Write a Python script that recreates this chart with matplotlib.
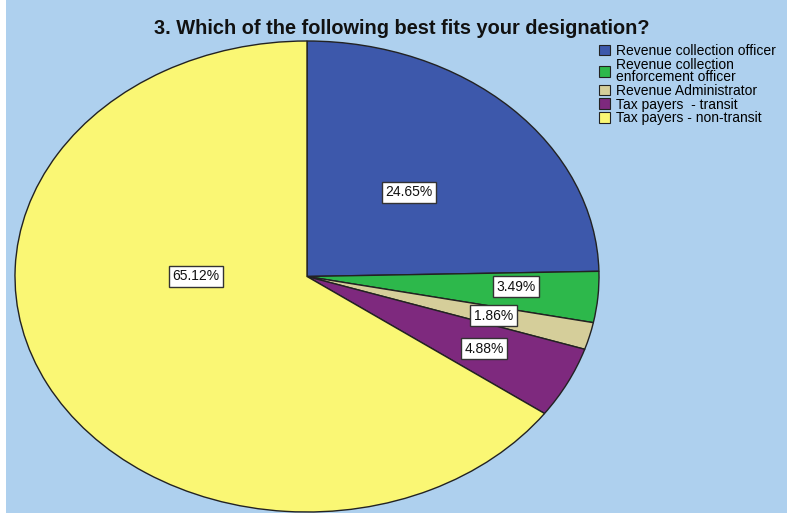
import numpy as np
import matplotlib.pyplot as plt
from matplotlib.patches import Rectangle, Patch

plt.rcParams['font.family'] = ['Liberation Sans', 'DejaVu Sans']

title = '3. Which of the following best fits your designation?'
categories = ['Revenue collection officer',
              'Revenue collection\nenforcement officer',
              'Revenue Administrator',
              'Tax payers  - transit',
              'Tax payers - non-transit']
percents = [24.65, 3.49, 1.86, 4.88, 65.12]
colors = ['#3D58AB', '#2DB84B', '#D5CE9A', '#7E297E', '#FAF774']
bg = '#AED0EE'

# where SPSS dropped the labels (radius fraction, angle in degrees)
label_r = [0.50, 0.717, 0.66, 0.68, 0.38]
label_ang = [None, -3.4, None, None, 180]

fig = plt.figure(figsize=(7.87, 5.13), dpi=100, facecolor='white')
fig.patches.append(Rectangle((6 / 787, 0), 1, 1, transform=fig.transFigure,
                             facecolor=bg, edgecolor='none', zorder=-10))

W, H = 787, 513
# ellipse bounding box in pixels
x0, x1, ytop, ybot = 15, 599, 41, 512
ax = fig.add_axes([x0 / W, (H - ybot) / H, (x1 - x0) / W, (ybot - ytop) / H])
wedges, _ = ax.pie(percents, colors=colors, startangle=90, counterclock=False,
                   radius=1, wedgeprops=dict(edgecolor='#222222', linewidth=1.0))
for w in wedges:
    w.set_clip_on(False)
ax.set_aspect('auto')
ax.set_xlim(-1, 1)
ax.set_ylim(-1, 1)
ax.axis('off')

for i, w in enumerate(wedges):
    ang = label_ang[i]
    if ang is None:
        ang = (w.theta1 + w.theta2) / 2
    r = label_r[i]
    x = r * np.cos(np.radians(ang))
    y = r * np.sin(np.radians(ang))
    ax.text(x, y, f'{percents[i]:.2f}%', ha='center', va='center', fontsize=10,
            color='#111111',
            bbox=dict(boxstyle='square,pad=0.25', facecolor='white',
                      edgecolor='#333333', linewidth=1.0))

fig.text(402 / W, 1 - 29 / H, title, ha='center', va='center',
         fontsize=14.4, fontweight='bold', color='#111111')

handles = [Patch(facecolor=c, edgecolor='#222222', linewidth=0.8) for c in colors]
leg = fig.legend(handles, categories, loc='upper left', bbox_to_anchor=(599 / W, 1 - 44 / H),
                 frameon=False, fontsize=10, handlelength=0.8, handleheight=0.8,
                 labelspacing=-0.02, handletextpad=0.45, borderpad=0, borderaxespad=0)
for t in leg.get_texts():
    t.set_linespacing(0.85)

fig.savefig('out.png', dpi=100, facecolor=fig.get_facecolor())
